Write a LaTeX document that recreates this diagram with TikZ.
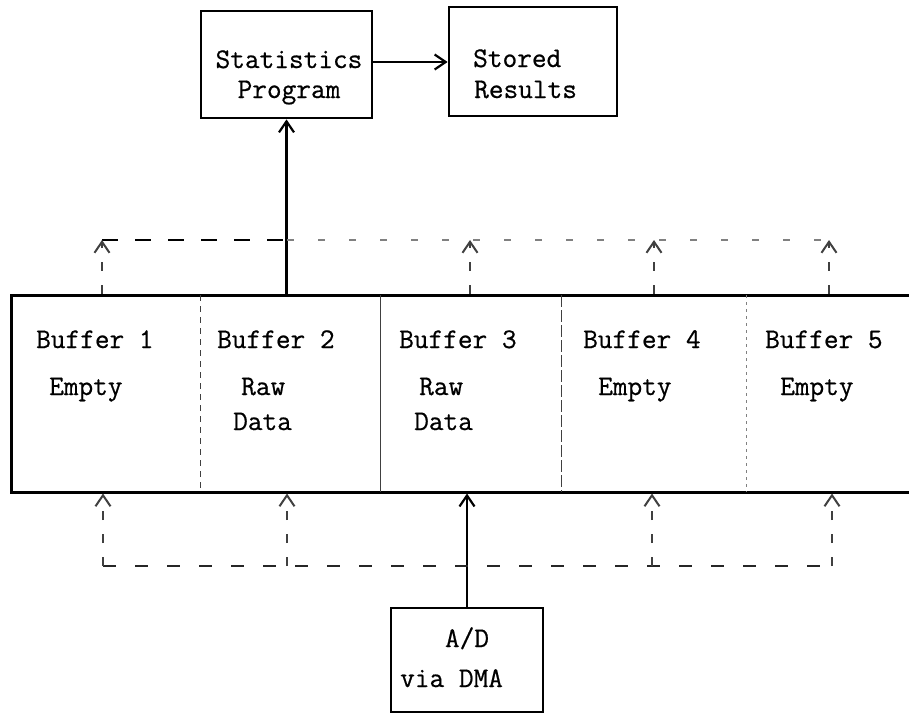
\documentclass[tikz,border=0pt]{standalone}
\usepackage{fontspec}
\newfontfamily\typewriter{Latin Modern Mono}[FakeBold=0.6]
\usetikzlibrary{arrows.meta}
\begin{document}
\begin{tikzpicture}[x=1pt,y=-1pt,
  txt/.style={font=\fontsize{28.5}{30}\selectfont\typewriter, inner sep=0pt},
  box/.style={draw, line width=2.8pt, inner sep=0pt},
  band/.style={draw, line width=3pt, inner sep=0pt},
  arr/.style={line width=2.2pt, -{Straight Barb[length=11pt,width=15pt]}},
  flow/.style={line width=1.9pt, black!85, dash pattern=on 13pt off 19pt},
  flowfaint/.style={line width=1.6pt, black!50, dash pattern=on 7pt off 24pt},
  flowup/.style={line width=1.6pt, black!75, dash pattern=on 9pt off 14pt,
     -{Straight Barb[length=11pt,width=15pt,line width=2pt]}},
  divider/.style={line width=0.9pt, black!75}
]
\useasboundingbox (0,0) rectangle (909,715);
\clip (0,0) rectangle (909,715);

% upper boxes
\node[box, minimum width=171pt, minimum height=107pt] (stats) at (286.5,64.5) {};
\node[txt, anchor=base] (statsA) at (289,68) {Statistics};
\node[txt, anchor=base] (statsB) at (289,98) {Program};

\node[box, minimum width=168pt, minimum height=109pt] (stored) at (533,61.5) {};
\node[txt, anchor=base west] (storedA) at (473,67) {Stored};
\node[txt, anchor=base west] (storedB) at (474,98) {Results};

% buffer ring (open at the right margin)
\node[band, minimum width=915pt, minimum height=197pt] (buf) at (468.5,393.5) {};
\draw[divider, dash pattern=on 6pt off 5pt] (200,295) -- (200,492);
\draw[divider] (380,295) -- (380,492);
\draw[divider, dash pattern=on 12pt off 3pt] (561,295) -- (561,492);
\draw[divider, black!50, dash pattern=on 3pt off 4pt] (746,295) -- (746,492);

\node[txt, anchor=base west] (b1) at (36,348) {Buffer 1};
\node[txt, anchor=base west] (b2) at (217,348) {Buffer 2};
\node[txt, anchor=base west] (b3) at (399,348) {Buffer 3};
\node[txt, anchor=base west] (b4) at (583,348) {Buffer 4};
\node[txt, anchor=base west] (b5) at (765,348) {Buffer 5};

\node[txt, anchor=base west] (s1) at (49,395) {Empty};
\node[txt, anchor=base west] (s2a) at (241,395) {Raw};
\node[txt, anchor=base west] (s2b) at (233,430) {Data};
\node[txt, anchor=base west] (s3a) at (419,395) {Raw};
\node[txt, anchor=base west] (s3b) at (414,430) {Data};
\node[txt, anchor=base west] (s4) at (598,395) {Empty};
\node[txt, anchor=base west] (s5) at (780,395) {Empty};

% converter
\node[box, minimum width=152pt, minimum height=104pt] (ad) at (467,660) {};
\node[txt, anchor=base] (adA) at (467,647) {A/D};
\node[txt, anchor=base west] (adB) at (400,687) {via DMA};

% solid data paths
\draw[arr] ([yshift=2.5pt]stats.east) -- ([yshift=2.5pt]stats.east -| stored.west);
\draw[arr] (buf.north -| stats.south) -- (stats.south);
\draw[arr] (ad.north) -- (ad.north |- buf.south);

% next buffers to be read
\coordinate (u1) at (102,240);
\coordinate (u2) at (287,240);
\coordinate (u3) at (470,240);
\coordinate (u4) at (654,240);
\coordinate (u5) at (829,240);
\draw[flow, black, dash pattern=on 16pt off 17pt] (u1) -- (u2);
\draw[flowfaint] (u2) -- (u5);
\draw[flowup] (buf.north -| u1) -- (u1);
\draw[flowup] (buf.north -| u3) -- (u3);
\draw[flowup] (buf.north -| u4) -- (u4);
\draw[flowup] (buf.north -| u5) -- (u5);

% next buffers to be filled
\coordinate (d1) at (103,566);
\coordinate (d2) at (287,566);
\coordinate (d4) at (652,566);
\coordinate (d5) at (832,566);
\draw[flow] (d1) -- (d5);
\draw[flowup] (d1) -- (d1 |- buf.south);
\draw[flowup] (d2) -- (d2 |- buf.south);
\draw[flowup] (d4) -- (d4 |- buf.south);
\draw[flowup] (d5) -- (d5 |- buf.south);
\end{tikzpicture}
\end{document}
